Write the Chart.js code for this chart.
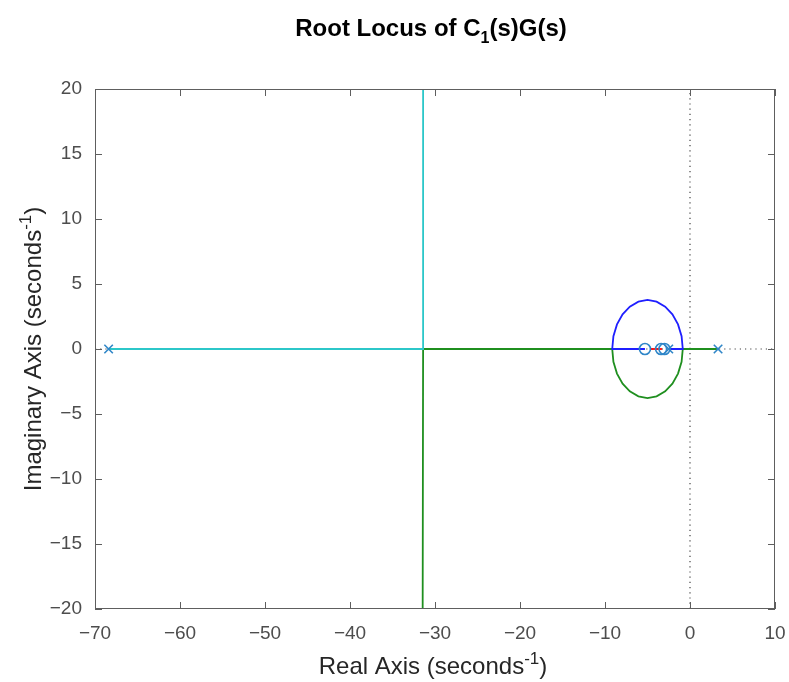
<!DOCTYPE html>
<html>
<head>
<meta charset="utf-8">
<script src="https://cdn.jsdelivr.net/npm/chart.js@4"></script>
<style>
  html, body { margin: 0; padding: 0; background: #ffffff; }
  #wrap { width: 789px; height: 682px; position: relative; }
</style>
</head>
<body>
<div id="wrap"><canvas id="c" width="789" height="682"></canvas></div>
<script>
// ---- data ----
const xTicks = [-70, -60, -50, -40, -30, -20, -10, 0, 10];
const yTicks = [-20, -15, -10, -5, 0, 5, 10, 15, 20];

const cyanBranch = [[-68.4, 0], [-31.4, 0], [-31.4, 20]];
const greenBranch = [
  [3.3, 0], [-0.85, 0], [-0.99, -0.98], [-1.41, -1.89], [-2.07, -2.67], [-2.92, -3.26],
  [-3.93, -3.64], [-5.0, -3.77], [-6.07, -3.64], [-7.08, -3.26], [-7.93, -2.67],
  [-8.59, -1.89], [-9.01, -0.98], [-9.15, 0], [-31.4, 0], [-31.45, -20]
];
const blueBranch = [
  [-2.5, 0], [-0.85, 0], [-0.99, 0.98], [-1.41, 1.89], [-2.07, 2.67], [-2.92, 3.26],
  [-3.93, 3.64], [-5.0, 3.77], [-6.07, 3.64], [-7.08, 3.26], [-7.93, 2.67],
  [-8.59, 1.89], [-9.01, 0.98], [-9.15, 0], [-5.3, 0]
];
const redBranch = [[-4.6, 0], [-3.3, 0]];
const poles = [[-68.4, 0], [3.3, 0], [-2.5, 0]];
const zeros = [[-5.3, 0], [-3.4, 0], [-3.0, 0]];
const zeroLineX = [[0, -20], [0, 20]];
const zeroLineY = [[-70, 0], [10, 0]];

const toXY = arr => arr.map(p => ({ x: p[0], y: p[1] }));

const FONT = '"Liberation Sans", Arial, Helvetica, sans-serif';
const PLOT = { left: 95, right: 775, top: 89, bottom: 609 };
const fmt = v => (v < 0 ? '\u2212' + Math.abs(v) : String(v));

function lineDs(data, color, order, dash, w) {
  return {
    data: toXY(data), showLine: true, borderColor: color, borderWidth: w || 1.8,
    pointRadius: 0, pointHoverRadius: 0, fill: false, tension: 0, order: order,
    borderDash: dash || []
  };
}

const decor = {
  id: 'decor',
  afterDraw(chart) {
    const ctx = chart.ctx;
    const xs = chart.scales.x, ys = chart.scales.y;
    const a = chart.chartArea;
    ctx.save();
    // box
    ctx.strokeStyle = '#5e5e5e';
    ctx.lineWidth = 1;
    ctx.strokeRect(Math.round(a.left) + 0.5, Math.round(a.top) + 0.5,
      Math.round(a.right - a.left) - 1, Math.round(a.bottom - a.top) - 1);
    // inward ticks
    const tl = 7;
    ctx.beginPath();
    xTicks.forEach(v => {
      const px = Math.round(xs.getPixelForValue(v)) + 0.5;
      ctx.moveTo(px, a.bottom); ctx.lineTo(px, a.bottom - tl);
      ctx.moveTo(px, a.top); ctx.lineTo(px, a.top + tl);
    });
    yTicks.forEach(v => {
      const py = Math.round(ys.getPixelForValue(v)) + 0.5;
      ctx.moveTo(a.left, py); ctx.lineTo(a.left + tl, py);
      ctx.moveTo(a.right, py); ctx.lineTo(a.right - tl, py);
    });
    ctx.stroke();

    // title
    const cx = (a.left + a.right) / 2;
    ctx.fillStyle = '#000000';
    ctx.textBaseline = 'alphabetic';
    const tFont = 'bold 24px ' + FONT, sFont = 'bold 16px ' + FONT;
    const p1 = 'Root Locus of C', p2 = '1', p3 = '(s)G(s)';
    ctx.font = tFont; const w1 = ctx.measureText(p1).width, w3 = ctx.measureText(p3).width;
    ctx.font = sFont; const w2 = ctx.measureText(p2).width;
    let x0 = cx - 4 - (w1 + w2 + w3) / 2;
    const tb = 36;
    ctx.textAlign = 'left';
    ctx.font = tFont; ctx.fillText(p1, x0, tb);
    ctx.font = sFont; ctx.fillText(p2, x0 + w1, tb + 7);
    ctx.font = tFont; ctx.fillText(p3, x0 + w1 + w2, tb);

    // axis labels with superscript
    function supLabel(main, sup, tail, size) {
      const mf = size + 'px ' + FONT, sf = Math.round(size * 0.7) + 'px ' + FONT;
      ctx.font = mf; const a1 = ctx.measureText(main).width, a3 = ctx.measureText(tail).width;
      ctx.font = sf; const a2 = ctx.measureText(sup).width;
      const tot = a1 + a2 + a3;
      return { draw(y) {
        let x = -tot / 2;
        ctx.font = mf; ctx.fillText(main, x, y);
        ctx.font = sf; ctx.fillText(sup, x + a1, y - size * 0.42);
        ctx.font = mf; ctx.fillText(tail, x + a1 + a2, y);
      } };
    }
    ctx.fillStyle = '#262626';
    ctx.textAlign = 'left';
    const xl = supLabel('Real Axis (seconds', '-1', ')', 24);
    ctx.save(); ctx.translate(cx - 2, 0); xl.draw(674); ctx.restore();
    const yl = supLabel('Imaginary Axis (seconds', '-1', ')', 24);
    ctx.save(); ctx.translate(41, (a.top + a.bottom) / 2); ctx.rotate(-Math.PI / 2); yl.draw(0); ctx.restore();
    ctx.restore();
  }
};

new Chart(document.getElementById('c'), {
  type: 'scatter',
  data: {
    datasets: [
      lineDs(zeroLineX, '#444444', 10, [1.2, 4], 1.2),
      lineDs(zeroLineY, '#444444', 10, [1.2, 4], 1.2),
      lineDs(greenBranch, '#1f8f1f', 6),
      lineDs(cyanBranch, '#2cc7c9', 5),
      lineDs(blueBranch, '#1f1fff', 4),
      lineDs(redBranch, '#ff0000', 3),
      { data: toXY(poles), showLine: false, pointStyle: 'crossRot', pointRadius: 6,
        borderColor: '#2f86c8', borderWidth: 1.6, order: 1 },
      { data: toXY(zeros), showLine: false, pointStyle: 'circle', pointRadius: 5.5,
        borderColor: '#2f86c8', backgroundColor: 'rgba(0,0,0,0)', borderWidth: 1.6, order: 1 }
    ]
  },
  options: {
    responsive: false, animation: false, events: [],
    layout: { padding: { top: PLOT.top, right: 789 - PLOT.right, left: 0, bottom: 0 } },
    plugins: { legend: { display: false }, tooltip: { enabled: false }, title: { display: false } },
    scales: {
      x: {
        type: 'linear', min: -70, max: 10,
        afterFit(s) { s.height = 682 - PLOT.bottom; s.paddingLeft = 0; s.paddingRight = 0; },
        afterBuildTicks(s) { s.ticks = xTicks.map(v => ({ value: v })); },
        grid: { display: false, drawTicks: false }, border: { display: false },
        ticks: { color: '#4d4d4d', font: { family: FONT, size: 19 }, padding: 13, maxRotation: 0, autoSkip: false, callback: fmt }
      },
      y: {
        type: 'linear', min: -20, max: 20,
        afterFit(s) { s.width = PLOT.left; s.paddingTop = 0; s.paddingBottom = 0; },
        afterBuildTicks(s) { s.ticks = yTicks.map(v => ({ value: v })); },
        grid: { display: false, drawTicks: false }, border: { display: false },
        ticks: { color: '#4d4d4d', font: { family: FONT, size: 19 }, padding: 13, autoSkip: false, callback: fmt }
      }
    }
  },
  plugins: [decor]
});
</script>
</body>
</html>
